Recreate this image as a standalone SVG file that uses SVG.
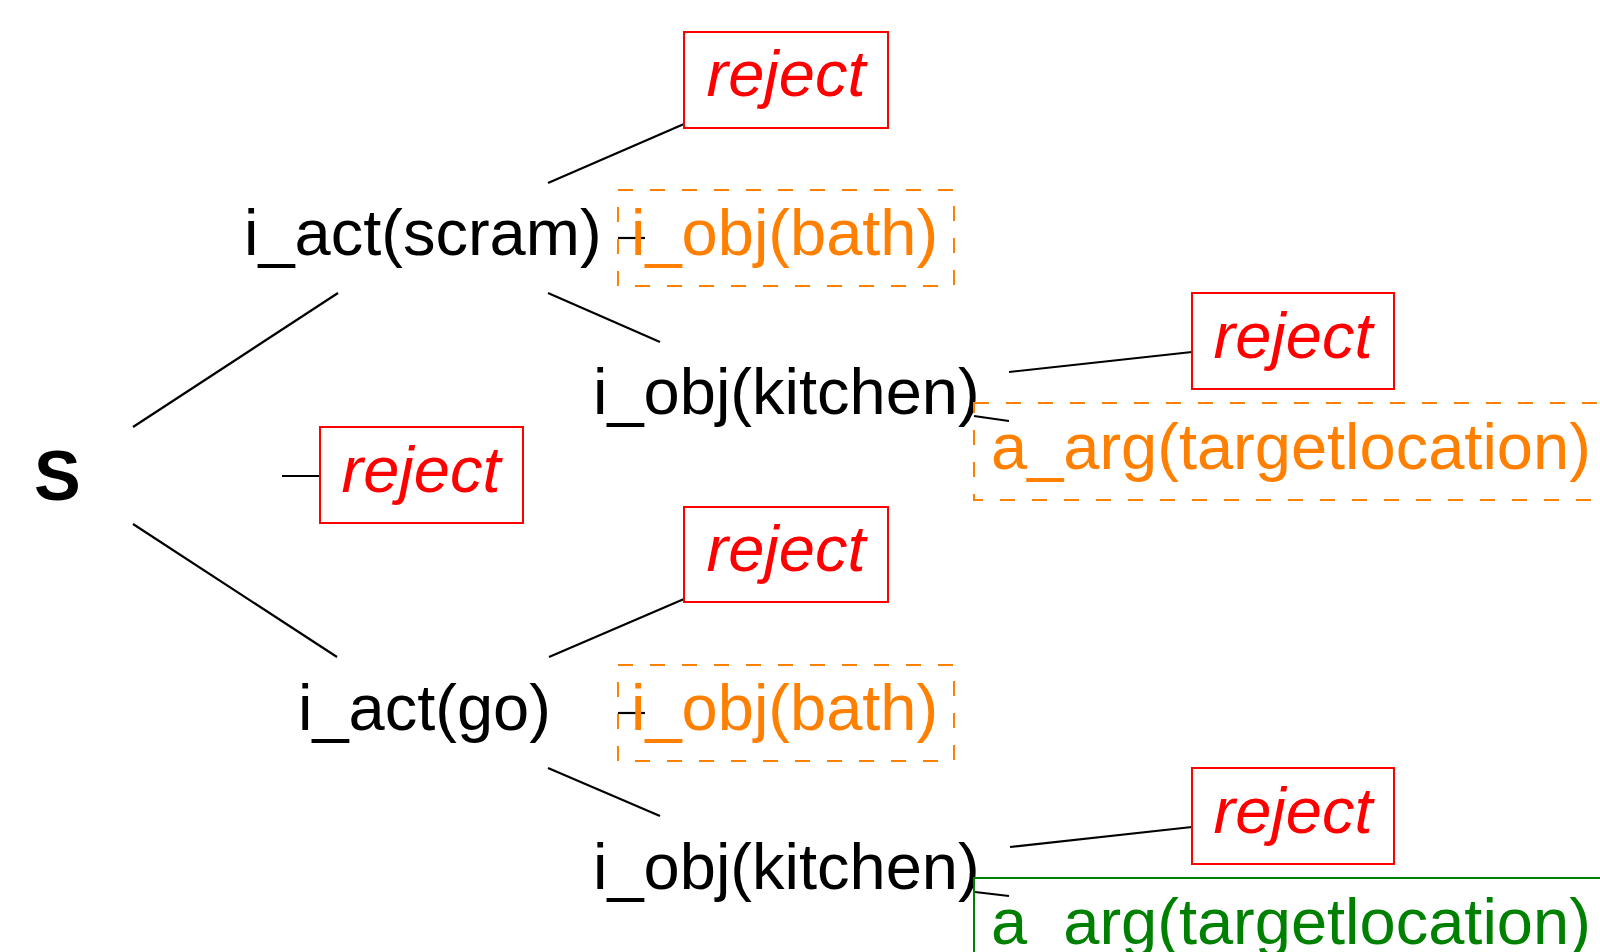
<svg xmlns="http://www.w3.org/2000/svg" width="1600" height="952" viewBox="0 0 1600 952">
<style>
  .t { font-family: "Liberation Sans", Arial, sans-serif; font-size: 65px; }
  .blk { fill: #000; }
  .rej { fill: #ff0000; font-style: italic; text-anchor: middle; }
  .org { fill: #ff8000; }
  .grn { fill: #008000; }
  .rbox { fill: #fff; stroke: #ff0000; stroke-width: 2; }
  .obox { fill: none; stroke: #ff8000; stroke-width: 2; stroke-dasharray: 15 17; }
  .gbox { fill: none; stroke: #008000; stroke-width: 2; }
  .edge { stroke: #000; stroke-width: 2.2; fill: none; }
</style>
<rect width="1600" height="952" fill="#fff"/>
<g id="connectors">
  <line class="edge" x1="133" y1="427" x2="338" y2="293"/>
  <line class="edge" x1="282" y1="476" x2="320" y2="476"/>
  <line class="edge" x1="133" y1="524" x2="337" y2="657"/>
  <line class="edge" x1="548" y1="183" x2="684" y2="124"/>
  <line class="edge" x1="618" y1="238" x2="645" y2="238"/>
  <line class="edge" x1="548" y1="293" x2="660" y2="342"/>
  <line class="edge" x1="1009" y1="372" x2="1192" y2="352"/>
  <line class="edge" x1="974" y1="416" x2="1009" y2="421"/>
  <line class="edge" x1="549" y1="657" x2="684" y2="599"/>
  <line class="edge" x1="618" y1="713" x2="645" y2="713"/>
  <line class="edge" x1="548" y1="768" x2="660" y2="816"/>
  <line class="edge" x1="1010" y1="847" x2="1192" y2="827"/>
  <line class="edge" x1="975" y1="892" x2="1009" y2="896"/>
</g>
<g id="S"><text class="t" x="34" y="500" style="font-size:70px;font-weight:bold">S</text></g>
<g id="reject_s"><rect class="rbox" x="320" y="427" width="203" height="96"/><text class="t rej" x="421" y="492">reject</text></g>
<g id="act_scram"><text class="t blk" x="244" y="255">i_act(scram)</text></g>
<g id="reject_scram"><rect class="rbox" x="684" y="32" width="204" height="96"/><text class="t rej" x="786" y="96">reject</text></g>
<g id="bath_scram"><rect class="obox" x="618" y="190" width="336" height="96"/><text class="t org" x="631" y="255">i_obj(bath)</text></g>
<g id="kitchen_scram"><text class="t blk" x="593" y="414">i_obj(kitchen)</text></g>
<g id="reject_kitchen_scram"><rect class="rbox" x="1192" y="293" width="202" height="96"/><text class="t rej" x="1293" y="358">reject</text></g>
<g id="arg_scram"><rect class="obox" x="974" y="403" width="660" height="97"/><text class="t org" x="991" y="469">a_arg(targetlocation)</text></g>
<g id="act_go"><text class="t blk" x="298" y="730">i_act(go)</text></g>
<g id="reject_go"><rect class="rbox" x="684" y="507" width="204" height="95"/><text class="t rej" x="786" y="571">reject</text></g>
<g id="bath_go"><rect class="obox" x="618" y="665" width="336" height="96"/><text class="t org" x="631" y="730">i_obj(bath)</text></g>
<g id="kitchen_go"><text class="t blk" x="593" y="889">i_obj(kitchen)</text></g>
<g id="reject_kitchen_go"><rect class="rbox" x="1192" y="768" width="202" height="96"/><text class="t rej" x="1293" y="833">reject</text></g>
<g id="arg_go"><rect class="gbox" x="974" y="878" width="660" height="100"/><text class="t grn" x="991" y="944">a_arg(targetlocation)</text></g>
</svg>
